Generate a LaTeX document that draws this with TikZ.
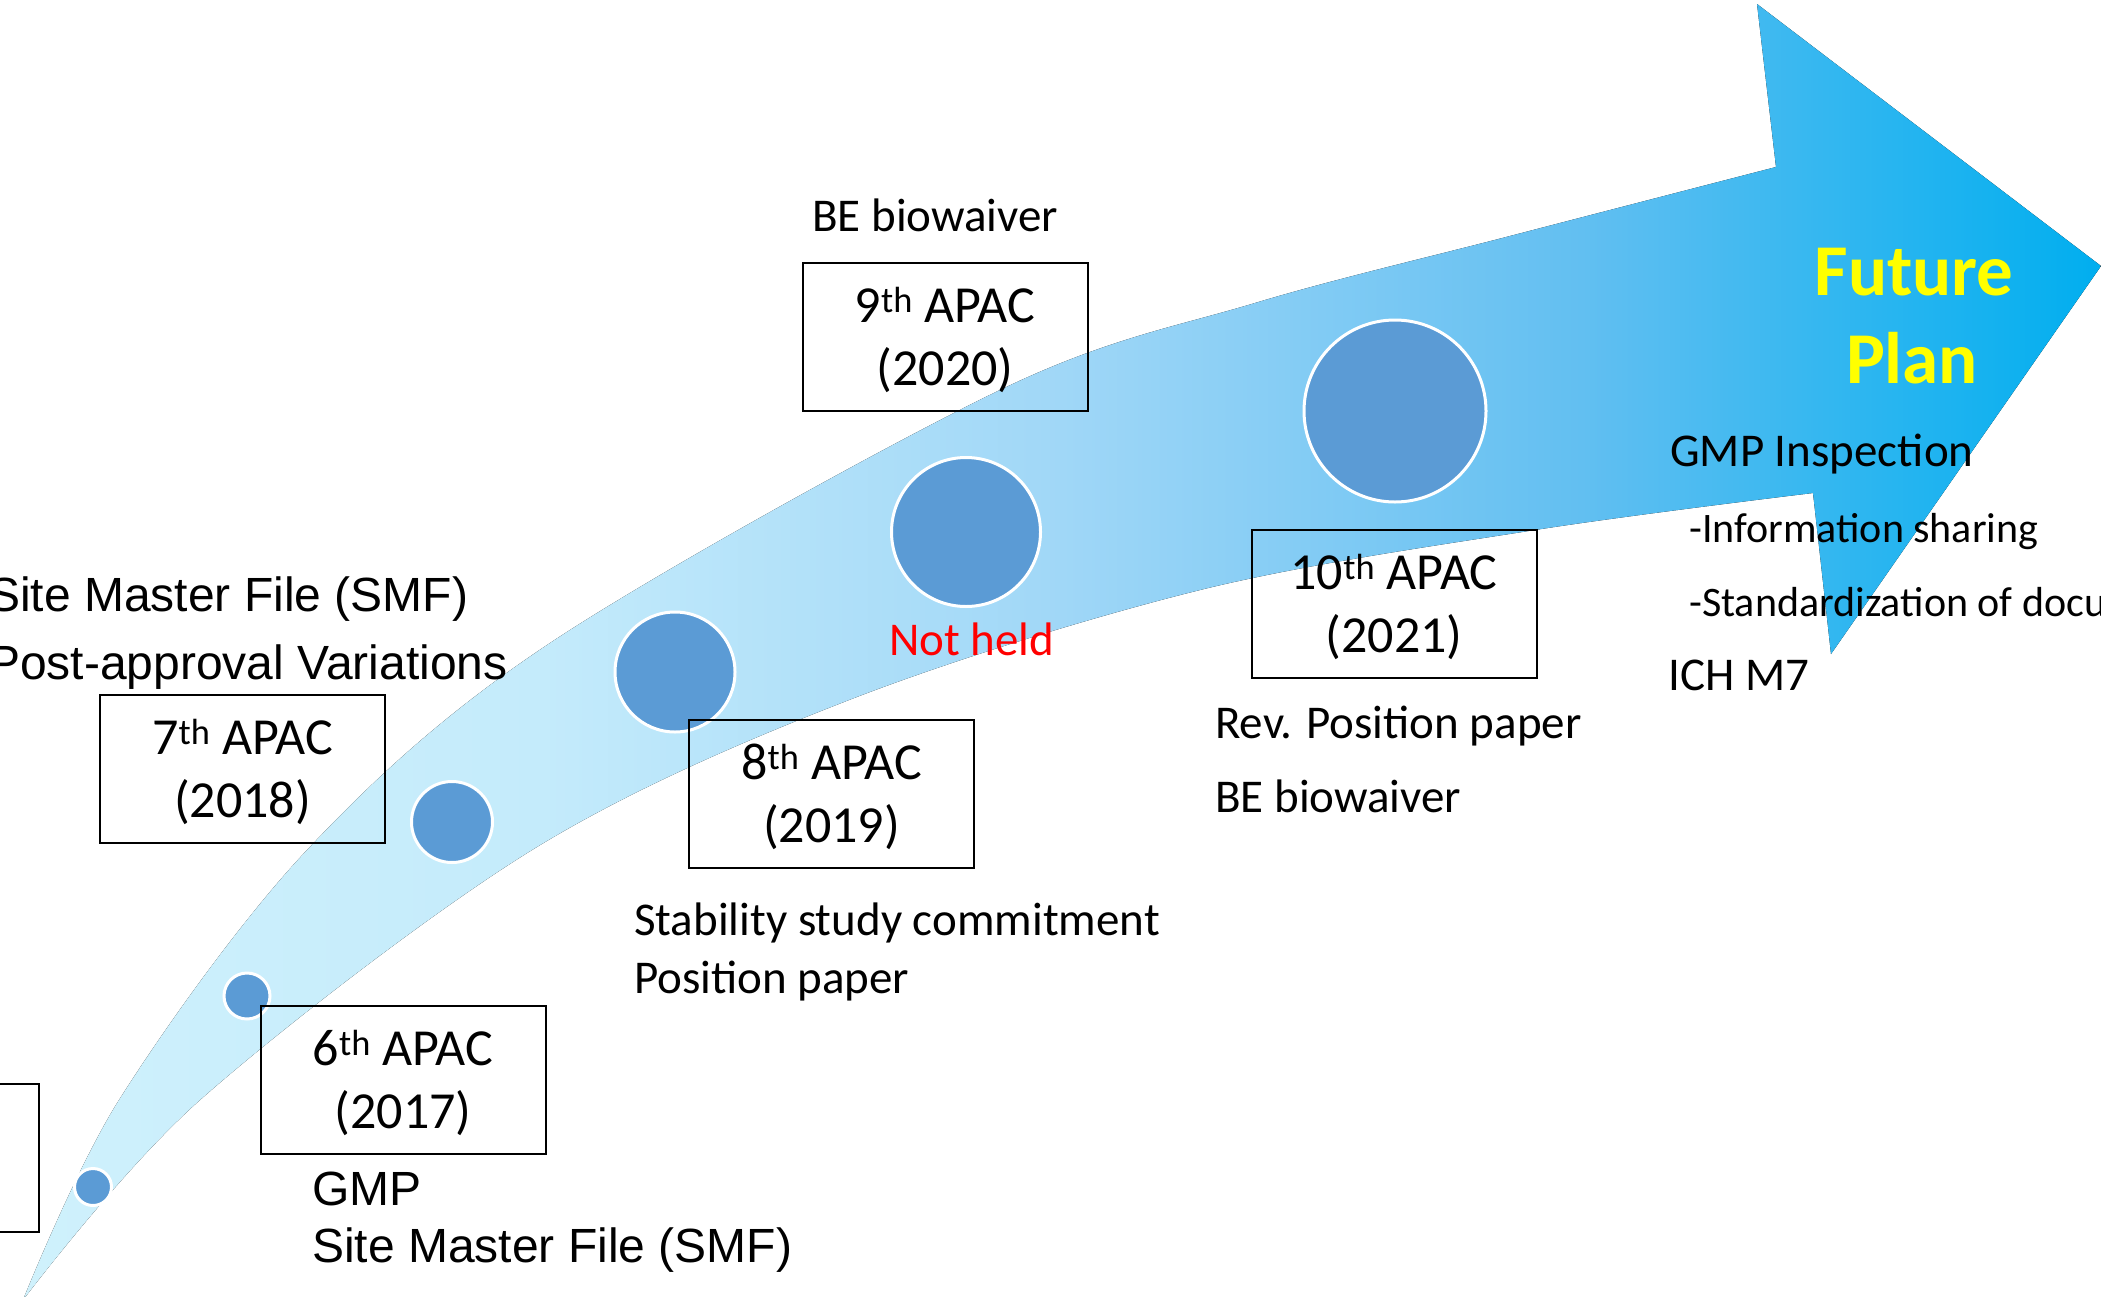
\documentclass[tikz,border=0pt]{standalone}
\usepackage{fontspec}
\setmainfont{Carlito}
\newfontfamily\arialf{Liberation Sans}
\usetikzlibrary{calc}
\definecolor{dotblue}{HTML}{5B9BD5}
\definecolor{bandA}{RGB}{207,241,252}
\definecolor{bandB}{RGB}{196,235,251}
\definecolor{bandC}{RGB}{160,215,247}
\definecolor{bandD}{RGB}{98,191,241}
\definecolor{bandE}{RGB}{0,174,239}
\definecolor{fyellow}{RGB}{255,255,0}
\pgfdeclarehorizontalshading{bandshade}{100bp}{color(0bp)=(bandA); color(25bp)=(bandA); color(37.5bp)=(bandB); color(50bp)=(bandC); color(62.5bp)=(bandD); color(75bp)=(bandE); color(100bp)=(bandE)}
\begin{document}
\begin{tikzpicture}[x=1pt,y=-1pt,
  apacbox/.style={draw=black, line width=2pt, minimum width=285pt, minimum height=148pt, inner sep=0pt},
  dotc/.style={circle, fill=dotblue, draw=white, line width=3pt, inner sep=0pt},
  boxtxt/.style={font=\fontsize{52}{63}\selectfont, inner sep=0pt, anchor=base},
  note/.style={font=\fontsize{47}{57}\selectfont, inner sep=0pt, anchor=base west},
  smallnote/.style={font=\fontsize{42}{50}\selectfont, inner sep=0pt, anchor=base west},
  ar/.style={font=\arialf\fontsize{48}{57}\selectfont, inner sep=0pt, anchor=base west},
  future/.style={font=\bfseries\fontsize{73}{88}\selectfont, text=fyellow, inner sep=0pt, anchor=base},
]
\clip (0,0) rectangle (2101,1296);
% curved arrow band
\fill[shading=bandshade]
  plot[smooth, tension=0.55] coordinates {(23,1300) (119,1100) (307,850) (550,643) (1000,390) (1255,303) (1510,236) (1776,167)}
  -- (1757,4) -- (2101,266) -- (1831,654) -- (1813,493)
  -- plot[smooth, tension=0.55] coordinates {(1813,493) (1535,530) (1200,590) (849,700) (532,850) (200,1100) (23,1300)}
  -- cycle;

% dots
\node[dotc, minimum size=37pt] (c1) at (93,1187) {};
\node[dotc, minimum size=46pt] (c2) at (247,996) {};
\node[dotc, minimum size=81pt] (c3) at (452,822) {};
\node[dotc, minimum size=120pt] (c4) at (675,672) {};
\node[dotc, minimum size=149pt] (c5) at (966,532) {};
\node[dotc, minimum size=182pt] (c6) at (1395,411) {};

% partial box at the left edge
\node[apacbox] (b5) at (-104,1158) {};

% APAC boxes
\node[apacbox] (b6) at (403,1080) {};
\node[apacbox] (b7) at (242.5,769) {};
\node[apacbox] (b8) at (831.5,794) {};
\node[apacbox] (b9) at (945,337) {};
\node[apacbox] (b10) at (1394,604) {};

\node[boxtxt] (b6a) at ($(b6.north)+(0,60)$) {6\textsuperscript{th} APAC};
\node[boxtxt] (b6b) at ($(b6.north)+(0,123)$) {(2017)};
\node[boxtxt] (b7a) at ($(b7.north)+(0,60)$) {7\textsuperscript{th} APAC};
\node[boxtxt] (b7b) at ($(b7.north)+(0,123)$) {(2018)};
\node[boxtxt] (b8a) at ($(b8.north)+(0,60)$) {8\textsuperscript{th} APAC};
\node[boxtxt] (b8b) at ($(b8.north)+(0,123)$) {(2019)};
\node[boxtxt] (b9a) at ($(b9.north)+(0,60)$) {9\textsuperscript{th} APAC};
\node[boxtxt] (b9b) at ($(b9.north)+(0,123)$) {(2020)};
\node[boxtxt] (b10a) at ($(b10.north)+(0,60)$) {10\textsuperscript{th} APAC};
\node[boxtxt] (b10b) at ($(b10.north)+(0,123)$) {(2021)};

% Arial notes
\node[ar] (n6a) at (312,1205) {GMP};
\node[ar] (n6b) at (312,1262) {Site Master File (SMF)};
\node[ar] (n7a) at (-12,611) {Site Master File (SMF)};
\node[ar] (n7b) at (-12,679) {Post-approval Variations};

% Calibri notes
\node[note] (n8a) at (634,935) {Stability study commitment};
\node[note] (n8b) at (634,993) {Position paper};
\node[note] (n9) at (812,231) {BE biowaiver};
\node[note, text=red] (nh) at (889,655) {Not held};
\node[note] (n10a) at (1215,738) {Rev. Position paper};
\node[note] (n10b) at (1215,812) {BE biowaiver};

% future plan
\node[future] (f1) at (1914,295) {Future};
\node[future] (f2) at (1912,383) {Plan};
\node[note] (g1) at (1670,466) {GMP Inspection};
\node[smallnote] (g2) at (1689,542) {-Information sharing};
\node[smallnote] (g3) at (1689,616) {-Standardization of documents};
\node[note] (g4) at (1668,690) {ICH M7};
\end{tikzpicture}
\end{document}
